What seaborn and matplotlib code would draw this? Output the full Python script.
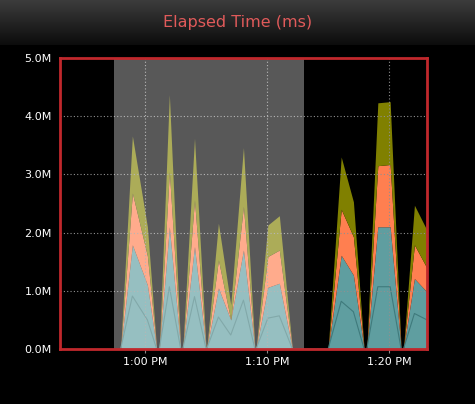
import numpy as np
import pandas as pd
import matplotlib
matplotlib.use("Agg")
import matplotlib.pyplot as plt
import seaborn as sns

# minutes relative to 1:00 PM
minutes = [-2.0, -1.04, 0.19, 0.95, 1.17, 1.99, 2.92, 3.09, 4.05, 5.0, 5.05, 6.01, 7.02, 8.06, 9.0,
           9.1, 10.06, 11.0, 12.07, 15.0, 16.07, 17.07, 17.95, 18.17, 19.07, 20.08, 20.98, 21.17, 22.07, 23.1]
total = [0, 3.66, 2.1, 0, 0, 4.37, 0, 0, 3.62, 0, 0, 2.16, 0.76, 3.46, 0,
         0, 2.13, 2.29, 0, 0, 3.3, 2.53, 0, 0, 4.23, 4.25, 0, 0, 2.47, 2.04]
salmon_top = [0, 2.68, 1.6, 0, 0, 3.05, 0, 0, 2.56, 0, 0, 1.53, 0.5, 2.45, 0,
              0, 1.59, 1.7, 0, 0, 2.4, 1.93, 0, 0, 3.15, 3.17, 0, 0, 1.79, 1.39]
teal_top = [0, 1.79, 1.1, 0, 0, 2.1, 0, 0, 1.76, 0, 0, 1.05, 0.5, 1.7, 0,
            0, 1.06, 1.13, 0, 0, 1.61, 1.27, 0, 0, 2.1, 2.1, 0, 0, 1.21, 0.98]
line_vals = [0, 0.91, 0.5, 0, 0, 1.07, 0, 0, 0.9, 0, 0, 0.55, 0.24, 0.84, 0,
             0, 0.53, 0.57, 0, 0, 0.82, 0.64, 0, 0, 1.07, 1.07, 0, 0, 0.61, 0.5]
yticks = [0, 1, 2, 3, 4, 5]
ytick_labels = ["0.0M", "1.0M", "2.0M", "3.0M", "4.0M", "5.0M"]
xticks = [0, 10, 20]
xtick_labels = ["1:00 PM", "1:10 PM", "1:20 PM"]
selection = (-2.54, 13.0)

sns.set_style("dark")
plt.rcParams['font.family'] = ['DejaVu Sans']

t = np.array(minutes)
teal = np.array(teal_top)
salmon = np.array(salmon_top) - teal
olive = np.array(total) - np.array(salmon_top)
df = pd.DataFrame({"t": t, "line": line_vals})

fig = plt.figure(figsize=(4.75, 4.04), dpi=100, facecolor="black")
# title bar gradient
tb = fig.add_axes([0, 1 - 45/404, 1, 45/404])
grad = np.linspace(0, 1, 50).reshape(-1, 1)
tb.imshow(grad, aspect="auto", cmap=matplotlib.colors.LinearSegmentedColormap.from_list("g", ["#3c3c3c", "#0c0c0c"]),
          extent=[0, 1, 0, 1])
tb.set_axis_off()
fig.text(0.5, 1 - 22/404, "Elapsed Time (ms)", color="#e05a5a", ha="center", va="center", fontsize=11.5)

ax = fig.add_axes([60/475, 55/404, 367/475, 291/404])
ax.set_facecolor("black")
ax.stackplot(t, teal, salmon, olive, colors=["#5f9ea0", "#ff7f50", "#808000"], linewidth=0)
sns.lineplot(data=df, x="t", y="line", ax=ax, color="#3f7a7c", linewidth=0.8)
ax.axvspan(selection[0], selection[1], color="white", alpha=0.35, linewidth=0, zorder=3)
ax.set_xlim(-6.97, 23.1)
ax.set_ylim(0, 5)
ax.set_yticks(yticks)
ax.set_yticklabels(ytick_labels)
ax.set_xticks(xticks)
ax.set_xticklabels(xtick_labels)
ax.set_xlabel("")
ax.set_ylabel("")
ax.grid(True, color="#909090", linestyle=(0, (1, 2)), linewidth=0.8)
ax.set_axisbelow(False)
ax.tick_params(colors="white", labelsize=8, length=3, pad=3)
ax.tick_params(axis="x", colors="#888888", labelcolor="white", bottom=True)
ax.tick_params(axis="y", left=False)
for s in ax.spines.values():
    s.set_color("#c0282c")
    s.set_linewidth(2)
    s.set_visible(True)
    s.set_zorder(5)
fig.savefig("out.png", facecolor="black")
